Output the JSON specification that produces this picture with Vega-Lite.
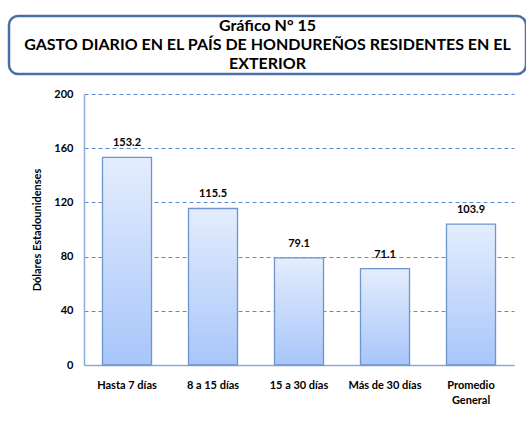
{
  "$schema": "https://vega.github.io/schema/vega-lite/v6.json",
  "padding": {"left": 7, "top": 14, "right": 0, "bottom": 0},
  "background": "white",
  "spacing": 12,
  "config": {
    "font": "Lato",
    "view": {"stroke": null},
    "axis": {"labelFont": "Lato", "titleFont": "Lato"}
  },
  "vconcat": [
    {
      "width": 517,
      "height": 58,
      "view": {"stroke": "#4a6fa8", "strokeWidth": 2.5, "cornerRadius": 9},
      "data": {"values": [
        {"row": 1, "line": "Gráfico N° 15"},
        {"row": 2, "line": "GASTO DIARIO EN EL PAÍS DE HONDUREÑOS RESIDENTES EN EL"},
        {"row": 3, "line": "EXTERIOR"}
      ]},
      "mark": {"type": "text", "fontSize": 16, "fontWeight": "bold", "font": "Lato", "color": "#000000", "align": "center", "baseline": "middle"},
      "encoding": {
        "y": {"field": "row", "type": "ordinal", "axis": null, "scale": {"padding": 0.5}},
        "x": {"datum": "t", "type": "nominal", "axis": null},
        "text": {"field": "line", "type": "nominal"}
      }
    },
    {
      "width": 505,
      "height": 271,
      "data": {"values": [
        {"cat": "Hasta 7 días", "value": 153.2},
        {"cat": "8 a 15 días", "value": 115.5},
        {"cat": "15 a 30 días", "value": 79.1},
        {"cat": "Más de 30 días", "value": 71.1},
        {"cat": "Promedio General", "value": 103.9}
      ]},
      "encoding": {
        "x": {
          "field": "cat", "type": "nominal", "sort": null,
          "scale": {"paddingInner": 0.43, "paddingOuter": 0.215, "range": [75, 505]},
          "axis": {
            "title": null, "labelAngle": 0, "ticks": false, "labelPadding": 14,
            "labelFontWeight": "bold", "labelFontSize": 11, "labelColor": "#000000",
            "domainColor": "#8eaadb", "domainWidth": 1.5,
            "labelExpr": "datum.label == 'Promedio General' ? ['Promedio', 'General'] : datum.label",
            "labelLineHeight": 15
          }
        },
        "y": {
          "field": "value", "type": "quantitative",
          "scale": {"domain": [0, 200], "nice": false},
          "axis": {
            "offset": -75,
            "values": [0, 40, 80, 120, 160, 200],
            "title": "Dólares Estadounidenses",
            "titleFontSize": 11, "titleFontWeight": "bold", "titleColor": "#000000",
            "titlePadding": 11,
            "ticks": false, "labelPadding": 11,
            "labelFontWeight": "bold", "labelFontSize": 11, "labelColor": "#000000",
            "domainColor": "#8eaadb", "domainWidth": 1.5,
            "grid": true, "gridColor": "#5b8bd3", "gridDash": [4, 3], "gridWidth": 1
          }
        }
      },
      "layer": [
        {
          "mark": {
            "type": "bar",
            "stroke": "#6e95cf", "strokeWidth": 1.3,
            "color": {
              "gradient": "linear", "x1": 0, "y1": 0, "x2": 0, "y2": 1,
              "stops": [
                {"offset": 0, "color": "#e4edfd"},
                {"offset": 1, "color": "#a8c6fa"}
              ]
            }
          }
        },
        {
          "mark": {"type": "text", "baseline": "bottom", "dy": -9, "fontSize": 11, "fontWeight": "bold", "font": "Lato", "color": "#000000"},
          "encoding": {"text": {"field": "value", "type": "quantitative", "format": ".1f"}}
        }
      ]
    }
  ]
}
